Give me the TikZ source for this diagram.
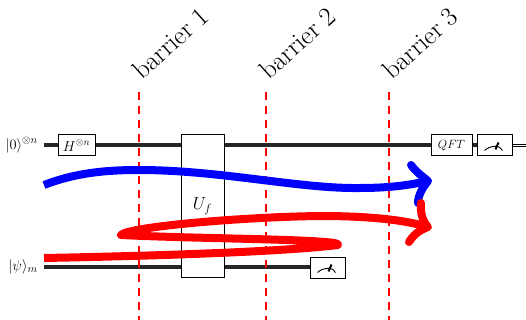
\documentclass[tikz,border=0pt]{standalone}
\usepackage{amsmath}
\usetikzlibrary{arrows,shapes}
\tikzstyle{gatebox}=[draw,fill=white,line width=1pt,minimum height=21pt,inner sep=0pt]
\tikzstyle{wire} = [draw,line width=4pt,black!85]
\tikzstyle{cwire} = [draw,line width=1pt,double,double distance=1.8pt]
\tikzstyle{barrier} = [draw,red,line width=2pt,dash pattern=on 8pt off 6pt]
\tikzstyle{barriertext} = [rotate=42,font=\fontsize{26.5}{30}\selectfont]
\tikzstyle{blueline} = [draw,blue,line width=8pt,line cap=round,line join=round]
\tikzstyle{redline} = [draw,red,line width=8pt,line cap=round,line join=round]
\tikzstyle{wirelabel} = [anchor=east,inner sep=0pt,font=\fontsize{15}{17}\selectfont]

\begin{document}
\begin{tikzpicture}[x=1pt,y=-1pt]
    \useasboundingbox (0,0) rectangle (526,320);
    % The boxes
    \node[gatebox,minimum width=37pt,font=\fontsize{14.4}{17}\selectfont] (H) at (76.5,145.5) {$H^{\otimes n}$};
    \node[gatebox,minimum width=43pt,minimum height=143pt,font=\fontsize{17.28}{20}\selectfont] (Uf) at (202.5,206) {$U_f$};
    \node[gatebox,minimum width=41pt,font=\fontsize{12}{14}\selectfont] (QFT) at (451.5,145.5) {$QFT$};
    \node[gatebox,minimum width=35pt] (meterA) at (494.5,145.5) {};
    \node[gatebox,minimum width=35pt] (meterB) at (327.5,267.5) {};
    % Ends of the wires and their labels
    \coordinate (inA) at (44,145.5);
    \coordinate (inB) at (44,266.5);
    \coordinate (outA) at (526,145.5);
    \node[wirelabel] (labelA) at (38,145) {$|0\rangle^{\otimes n}$};
    \node[wirelabel] (labelB) at (38,267) {$|\psi\rangle_m$};
    % Connect the boxes with wires
    \path[wire] (inA) -- (H.west);
    \path[wire] (H.east) -- (Uf.west |- H.east);
    \path[wire] (Uf.east |- QFT.west) -- (QFT.west);
    \path[wire] (QFT.east) -- (meterA.west);
    \path[cwire] (meterA.east) -- (outA);
    \path[wire] (inB) -- (Uf.west |- inB);
    \path[wire] (Uf.east |- inB) -- (meterB.west |- inB);
    % The meters
    \foreach \name in {meterA,meterB}
    {
        \draw[line width=.9pt,shift={(\name)}] (-10,5) .. controls (-5,0) and (6,-1) .. (8,5);
        \draw[line width=2pt,shift={(\name)}] (1,4) -- (4,-3);
    }
    % The barriers
    \foreach \x/\name/\num in {139/barA/1, 266/barB/2, 389/barC/3}
    {
        \coordinate (\name top) at (\x,92);
        \coordinate (\name bot) at (\x,320);
        \path[barrier] (\name top) -- (\name bot);
        \node[barriertext] (\name text) at (\x+31,43) {barrier \num};
    }
    % The two hand drawn arrows
    \coordinate (blueStart) at (44,185);
    \coordinate (blueMid) at (139,170);
    \coordinate (blueTip) at (428,181);
    \coordinate (blueUp) at (411,165);
    \coordinate (blueDown) at (418,203);
    \coordinate (redStart) at (44,258);
    \coordinate (redRight) at (338,245);
    \coordinate (redLeft) at (121,235);
    \coordinate (redTip) at (428,227);
    \coordinate (redUp) at (421,203);
    \coordinate (redDown) at (409,242);
    \path[blueline,line cap=butt] (blueStart) .. controls (75,173) and (105,170) .. (blueMid)
        .. controls (220,170) and (300,189) .. (360,188)
        .. controls (390,188) and (410,185) .. (blueTip);
    \path[blueline] (blueUp) .. controls (416,172) and (422,176) .. (blueTip)
        .. controls (423,187) and (418,195) .. (blueDown);
    \path[redline,line cap=butt] (redStart) .. controls (150,256) and (280,252) .. (redRight)
        .. controls (345,239) and (200,239) .. (redLeft)
        .. controls (128,227) and (240,217) .. (320,216)
        .. controls (370,216) and (405,220) .. (redTip);
    \path[redline] (redUp) .. controls (420,213) and (423,222) .. (redTip)
        .. controls (420,230) and (414,234) .. (redDown);
\end{tikzpicture}
\end{document}
